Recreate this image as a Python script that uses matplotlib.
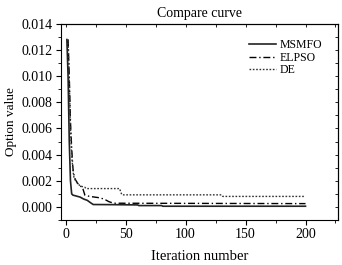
import numpy as np
import matplotlib
matplotlib.use("Agg")
from matplotlib import pyplot as plt
from matplotlib.ticker import MultipleLocator

plt.rcParams['font.family'] = ['Liberation Serif', 'DejaVu Serif']

# iteration / value pairs
msmfo_x = [1, 2, 3, 4, 5, 6, 8, 12, 15, 18, 21, 23, 40, 60, 61, 80, 81, 200]
msmfo_y = [0.0128, 0.0100, 0.0050, 0.0020, 0.0010, 0.0009, 0.00085, 0.00075, 0.0006, 0.0005, 0.0003, 0.00018, 0.00017,
           0.00015, 0.0001, 0.0001, 0.00005, 0.00005]

elpso_x = [2, 3, 4, 5, 6, 7, 8, 10, 12, 14, 16, 20, 28, 32, 36, 40, 200]
elpso_y = [0.0128, 0.0100, 0.0065, 0.0045, 0.0030, 0.0024, 0.0021, 0.0018, 0.0016, 0.0015, 0.0009, 0.0008, 0.0007,
           0.0006, 0.0004, 0.00028, 0.00025]

de_x = [2, 3, 4, 5, 6, 7, 9, 12, 16, 17, 45, 46, 47, 130, 131, 200]
de_y = [0.0128, 0.0095, 0.0060, 0.0040, 0.0028, 0.0022, 0.0019, 0.0016, 0.0015, 0.0014, 0.0014, 0.0011, 0.00092, 0.00092,
        0.0008, 0.0008]

fig = plt.figure(figsize=(3.42, 2.65), dpi=100)
ax = fig.add_axes([0.178, 0.17, 0.81, 0.74])

ax.plot(msmfo_x, msmfo_y, color='#222222', lw=1.2, ls='-', label='MSMFO')
ax.plot(elpso_x, elpso_y, color='black', lw=1.0, ls=(0, (5, 2, 1, 2)), label='ELPSO')
ax.plot(de_x, de_y, color='#333333', lw=1.0, ls=(0, (1.2, 1.2)), label='DE')

ax.set_xlim(-4, 227)
ax.set_ylim(-0.001, 0.014)
ax.xaxis.set_major_locator(MultipleLocator(50))
ax.xaxis.set_minor_locator(MultipleLocator(25))
ax.yaxis.set_major_locator(MultipleLocator(0.002))
ax.yaxis.set_minor_locator(MultipleLocator(0.001))
ax.yaxis.set_major_formatter(plt.FormatStrFormatter('%.3f'))
ax.tick_params(which='both', direction='out', labelsize=10, top=False, right=False, pad=2.5)
ax.tick_params(which='major', length=3.5, width=0.8)
ax.tick_params(which='minor', length=2, width=0.6)
for s in ax.spines.values():
    s.set_linewidth(0.8)

# small inward ticks on the top and right edges
top = ax.secondary_xaxis('top')
top.xaxis.set_major_locator(MultipleLocator(50))
top.xaxis.set_minor_locator(MultipleLocator(25))
top.tick_params(which='both', direction='in', labeltop=False, length=2, width=0.6)
right = ax.secondary_yaxis('right')
right.yaxis.set_major_locator(MultipleLocator(0.002))
right.yaxis.set_minor_locator(MultipleLocator(0.001))
right.tick_params(which='both', direction='in', labelright=False, length=2, width=0.6)

ax.set_title('Compare curve', fontsize=10, pad=5)
ax.set_xlabel('Iteration number', fontsize=10.5, labelpad=6)
ax.set_ylabel('Option value', fontsize=9.5, labelpad=3)
ax.legend(loc='upper right', fontsize=8.5, frameon=False, handlelength=2.3, labelspacing=0.05,
          handletextpad=0.3, borderaxespad=0.9)

fig.savefig('out.png', dpi=100)
